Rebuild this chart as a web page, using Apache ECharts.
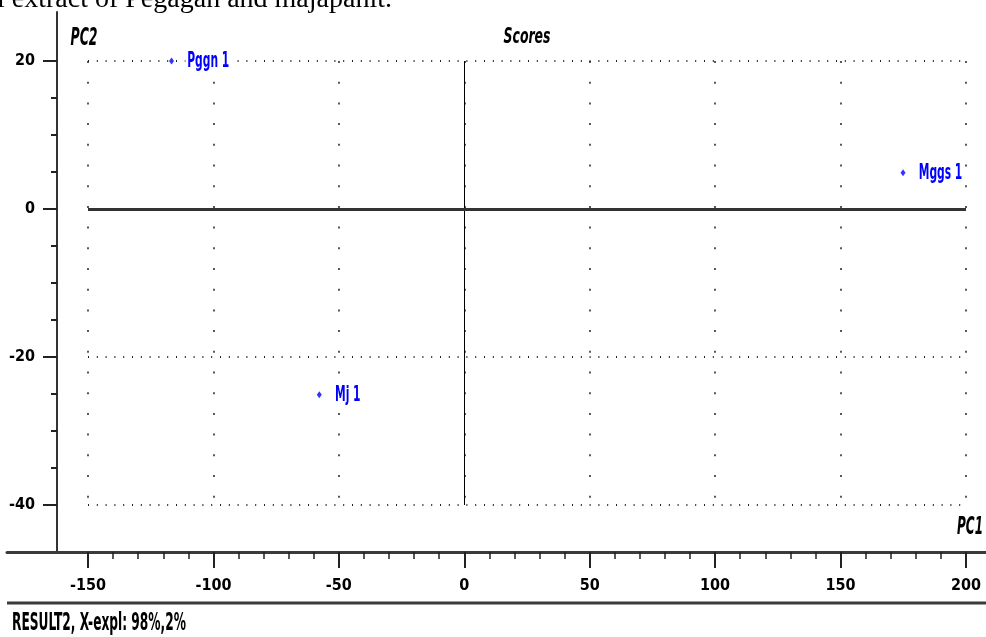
<!DOCTYPE html>
<html><head><meta charset="utf-8">
<script src="https://cdn.jsdelivr.net/npm/echarts@6/dist/echarts.min.js"></script>
<style>html,body{margin:0;padding:0;background:#fff;overflow:hidden}#c{width:986px;height:637px}</style>
</head><body><div id="c"></div>
<script>
// ---- data ----
const sampleNames = ['Pggn 1', 'Mggs 1', 'Mj 1'];
const pc1Scores = [-116.7, 174.9, -57.8];
const pc2Scores = [20.0, 4.9, -25.1];
const xMajorTicks = [-150, -100, -50, 0, 50, 100, 150, 200];
const xMinorTicks = [-150, -140, -130, -120, -110, -100, -90, -80, -70, -60, -50, -40, -30, -20, -10, 0,
  10, 20, 30, 40, 50, 60, 70, 80, 90, 100, 110, 120, 130, 140, 150, 160, 170, 180, 190, 200];
const yMajorTicks = [-40, -20, 0, 20];
const yMinorTicks = [-40, -35, -30, -25, -20, -15, -10, -5, 0, 5, 10, 15, 20];
const captionText = 'l extract of Pegagan and majapahit.';
const titleText = 'Scores';
const xAxisName = 'PC1';
const yAxisName = 'PC2';
const footerText = 'RESULT2, X-expl: 98%,2%';

// ---- helpers (text squeezing to imitate the narrow reference font) ----
const COND = "'DejaVu Sans Condensed', 'Liberation Sans Narrow', sans-serif";
const mctx = document.createElement('canvas').getContext('2d');
function squeeze(text, style, weight, size, targetWidth) {
  mctx.font = style + ' ' + weight + ' ' + size + 'px ' + COND;
  return targetWidth / mctx.measureText(text).width;
}

// ---- chart ----
const chart = echarts.init(document.getElementById('c'), null, {renderer: 'canvas'});
const outerX = {min: -182.3, max: 208.0};
const outerY = {min: -46.35, max: 26.62};
const labelFont = {fontFamily: COND, fontSize: 16, fontWeight: 'bold', color: '#000'};
const pointLabelSize = 21;
const pointScaleX = squeeze(sampleNames[0], 'normal', 'bold', pointLabelSize, 42);

const option = {
  animation: false,
  backgroundColor: '#fff',
  grid: [
    {left: 7, right: 0, top: 12, bottom: 85},
    {left: 88, right: 20, top: 61, bottom: 132}
  ],
  xAxis: [
    {gridIndex: 0, type: 'value', position: 'bottom', min: outerX.min, max: outerX.max,
      axisLine: {show: true, onZero: false, lineStyle: {color: '#3a3a3a', width: 3}},
      axisTick: {show: true, customValues: xMinorTicks, length: 7, lineStyle: {color: '#222', width: 1.5}},
      axisLabel: Object.assign({show: true, customValues: xMajorTicks, margin: 26}, labelFont),
      splitLine: {show: false}},
    {gridIndex: 0, type: 'value', position: 'bottom', min: outerX.min, max: outerX.max,
      axisLine: {show: false, onZero: false},
      axisTick: {show: true, customValues: xMajorTicks, length: 16, lineStyle: {color: '#222', width: 2}},
      axisLabel: {show: false}, splitLine: {show: false}},
    {gridIndex: 1, type: 'value', min: -150, max: 200, interval: 50,
      axisLine: {show: false, onZero: false}, axisTick: {show: false}, axisLabel: {show: false},
      splitLine: {show: true, lineStyle: {color: '#222', width: 1.5, type: [2, 18.7]}}}
  ],
  yAxis: [
    {gridIndex: 0, type: 'value', position: 'left', offset: -50, min: outerY.min, max: outerY.max,
      axisLine: {show: true, onZero: false, lineStyle: {color: '#333', width: 2}},
      axisTick: {show: true, customValues: yMinorTicks, length: 6, lineStyle: {color: '#222', width: 2}},
      axisLabel: {show: false}, splitLine: {show: false}},
    {gridIndex: 0, type: 'value', position: 'left', offset: -50, min: outerY.min, max: outerY.max,
      axisLine: {show: false, onZero: false},
      axisTick: {show: true, customValues: yMajorTicks, length: 14, lineStyle: {color: '#222', width: 2}},
      axisLabel: Object.assign({show: true, customValues: yMajorTicks, margin: 22}, labelFont),
      splitLine: {show: false}},
    {gridIndex: 1, type: 'value', min: -40, max: 20, interval: 20,
      axisLine: {show: false, onZero: false}, axisTick: {show: false}, axisLabel: {show: false},
      splitLine: {show: true, lineStyle: {color: '#222', width: 2, type: [1, 7.8]}}}
  ],
  series: [{
    type: 'scatter', xAxisIndex: 2, yAxisIndex: 2, z: 5,
    symbol: 'diamond', symbolSize: [5, 7],
    itemStyle: {color: '#0000ff'},
    data: pc1Scores.map((x, i) => [x, pc2Scores[i]]),
    markLine: {
      silent: true, symbol: ['none', 'none'], label: {show: false}, z: 3,
      data: [
        [{coord: [0, 20], lineStyle: {color: '#000', width: 1, type: 'solid'}}, {coord: [0, -40]}],
        [{coord: [-150, 0], lineStyle: {color: '#333', width: 3, type: 'solid'}}, {coord: [200, 0]}]
      ]
    }
  }, {
    type: 'custom', xAxisIndex: 2, yAxisIndex: 2, z: 6, clip: false,
    data: pc1Scores.map((x, i) => [x, pc2Scores[i]]),
    renderItem: (params, api) => {
      const pt = api.coord([api.value(0), api.value(1)]);
      return {
        type: 'text', x: pt[0] + 14, y: pt[1] + 1, scaleX: pointScaleX,
        style: {text: sampleNames[params.dataIndex], fontFamily: COND, fontSize: pointLabelSize,
          fontWeight: 'bold', fill: '#0000ff', align: 'left', verticalAlign: 'middle',
          backgroundColor: '#fff', padding: [0, 3]}
      };
    }
  }],
  graphic: [
    {type: 'text', x: -3, y: -0.5, silent: true,
      style: {text: captionText, fontFamily: "'Liberation Serif', 'Times New Roman', serif", fontSize: 28,
        fill: '#000', align: 'left', verticalAlign: 'middle'}},
    {type: 'text', x: 527, y: 37, scaleX: squeeze(titleText, 'italic', 'bold', 22, 47), silent: true,
      style: {text: titleText, fontFamily: COND, fontSize: 22, fontStyle: 'italic', fontWeight: 'bold',
        fill: '#000', align: 'center', verticalAlign: 'middle'}},
    {type: 'text', x: 84, y: 39, scaleX: squeeze(yAxisName, 'italic', 'bold', 24, 27), silent: true,
      style: {text: yAxisName, fontFamily: COND, fontSize: 24, fontStyle: 'italic', fontWeight: 'bold',
        fill: '#000', align: 'center', verticalAlign: 'middle'}},
    {type: 'text', x: 983, y: 528, scaleX: squeeze(xAxisName, 'italic', 'bold', 24, 26), silent: true,
      style: {text: xAxisName, fontFamily: COND, fontSize: 24, fontStyle: 'italic', fontWeight: 'bold',
        fill: '#000', align: 'right', verticalAlign: 'middle'}},
    {type: 'line', silent: true, shape: {x1: 7, y1: 603, x2: 986, y2: 603},
      style: {stroke: '#3a3a3a', lineWidth: 3}},
    {type: 'text', x: 12, y: 624, scaleX: squeeze(footerText, 'normal', 'bold', 24, 174), silent: true,
      style: {text: footerText, fontFamily: COND, fontSize: 24, fontWeight: 'bold',
        fill: '#000', align: 'left', verticalAlign: 'middle'}}
  ]
};
chart.setOption(option);
</script></body></html>
